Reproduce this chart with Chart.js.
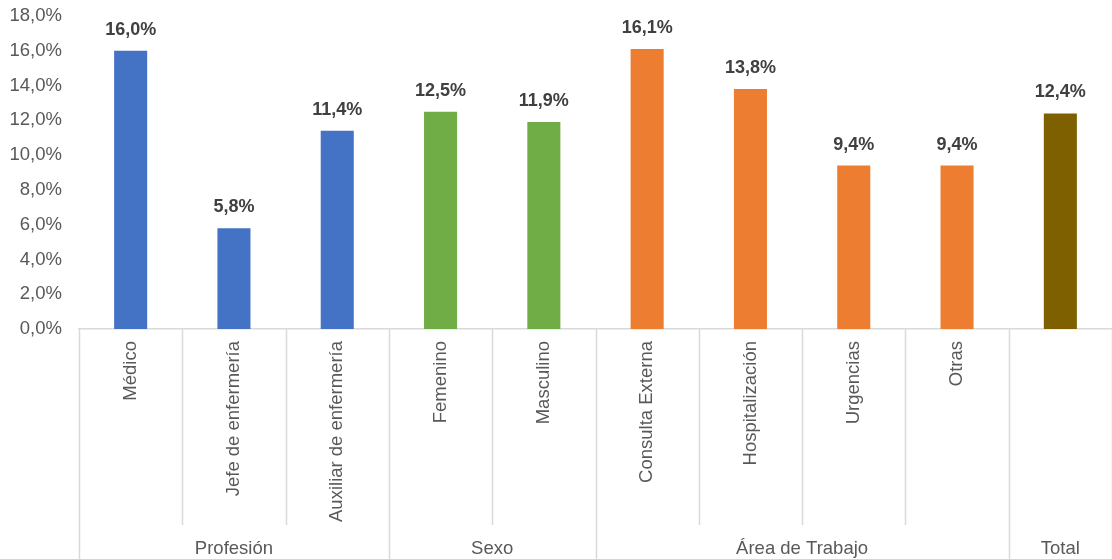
<!DOCTYPE html>
<html>
<head>
<meta charset="utf-8">
<script src="https://cdn.jsdelivr.net/npm/chart.js@4/dist/chart.umd.min.js"></script>
<style>
html,body{margin:0;padding:0;background:#fff;}
#wrap{width:1112px;height:559px;position:relative;}
</style>
</head>
<body>
<div id="wrap"><canvas id="c" width="1112" height="559"></canvas></div>
<script>
const categories = ['Médico','Jefe de enfermería','Auxiliar de enfermería','Femenino','Masculino','Consulta Externa','Hospitalización','Urgencias','Otras',''];
const values = [16.0, 5.8, 11.4, 12.5, 11.9, 16.1, 13.8, 9.4, 9.4, 12.4];
const barColors = ['#4472C4','#4472C4','#4472C4','#70AD47','#70AD47','#ED7D31','#ED7D31','#ED7D31','#ED7D31','#7F6000'];
const groupLabels = ['Profesión','Sexo','Área de Trabajo','Total'];
const groupSizes = [3, 2, 4, 1];
const yTicks = [0,2,4,6,8,10,12,14,16,18];

const FONT = '"Liberation Sans", Arial, sans-serif';
const fmt = v => v.toFixed(1).replace('.', ',') + '%';

const labelsPlugin = {
  id: 'valLabels',
  afterDatasetsDraw(chart) {
    const ctx = chart.ctx;
    const meta = chart.getDatasetMeta(0);
    ctx.save();
    ctx.font = 'bold 18px ' + FONT;
    ctx.fillStyle = '#404040';
    ctx.textAlign = 'center';
    ctx.textBaseline = 'alphabetic';
    meta.data.forEach((bar, i) => {
      ctx.fillText(fmt(values[i]), bar.x, bar.y - 16);
    });
    ctx.restore();
  }
};

const groupPlugin = {
  id: 'groups',
  afterDraw(chart) {
    const ctx = chart.ctx;
    const x = chart.scales.x;
    const area = chart.chartArea;
    const n = categories.length;
    const half = (x.getPixelForValue(1) - x.getPixelForValue(0)) / 2;
    const edge = i => x.getPixelForValue(i) - half;
    const boundaries = new Set([0]);
    let acc = 0;
    groupSizes.forEach(s => { acc += s; boundaries.add(acc); });
    ctx.save();
    ctx.strokeStyle = '#d9d9d9';
    ctx.lineWidth = 1.5;
    for (let i = 0; i <= n; i++) {
      const px = Math.round(edge(i)) + 0.5;
      const yEnd = boundaries.has(i) ? chart.height : area.bottom + 196;
      ctx.beginPath();
      ctx.moveTo(px, area.bottom);
      ctx.lineTo(px, yEnd);
      ctx.stroke();
    }
    ctx.font = '18.5px ' + FONT;
    ctx.fillStyle = '#595959';
    ctx.textAlign = 'center';
    ctx.textBaseline = 'alphabetic';
    let start = 0;
    groupSizes.forEach((s, g) => {
      const cx = (edge(start) + edge(start + s)) / 2;
      ctx.fillText(groupLabels[g], cx, chart.height - 5);
      start += s;
    });
    ctx.restore();
  }
};

new Chart(document.getElementById('c'), {
  type: 'bar',
  data: {
    labels: categories,
    datasets: [{
      data: values,
      backgroundColor: barColors,
      borderWidth: 0,
      barPercentage: 0.32,
      categoryPercentage: 1
    }]
  },
  options: {
    responsive: false,
    animation: false,
    events: [],
    layout: { padding: { top: 16, left: 0, right: 0, bottom: 34 } },
    plugins: { legend: { display: false }, tooltip: { enabled: false } },
    scales: {
      x: {
        grid: { display: false, drawTicks: false },
        border: { display: true, color: '#d9d9d9', width: 1.5 },
        ticks: {
          color: '#595959',
          font: { family: FONT, size: 18.5 },
          maxRotation: 90, minRotation: 90,
          padding: 12,
          autoSkip: false
        },
        afterFit(scale) { scale.height = 196; scale.paddingLeft = 0; scale.paddingRight = 0; scale.paddingTop = 0; scale.paddingBottom = 0; }
      },
      y: {
        min: 0, max: 18,
        afterBuildTicks(scale) { scale.ticks = yTicks.map(v => ({ value: v })); },
        grid: { display: false, drawTicks: false },
        border: { display: false },
        ticks: {
          color: '#595959',
          font: { family: FONT, size: 18.5 },
          padding: 17,
          callback: v => fmt(v)
        },
        afterFit(scale) { scale.width = 79; scale.paddingTop = 0; scale.paddingBottom = 0; scale.paddingLeft = 0; scale.paddingRight = 0; }
      }
    }
  },
  plugins: [labelsPlugin, groupPlugin]
});
</script>
</body>
</html>
